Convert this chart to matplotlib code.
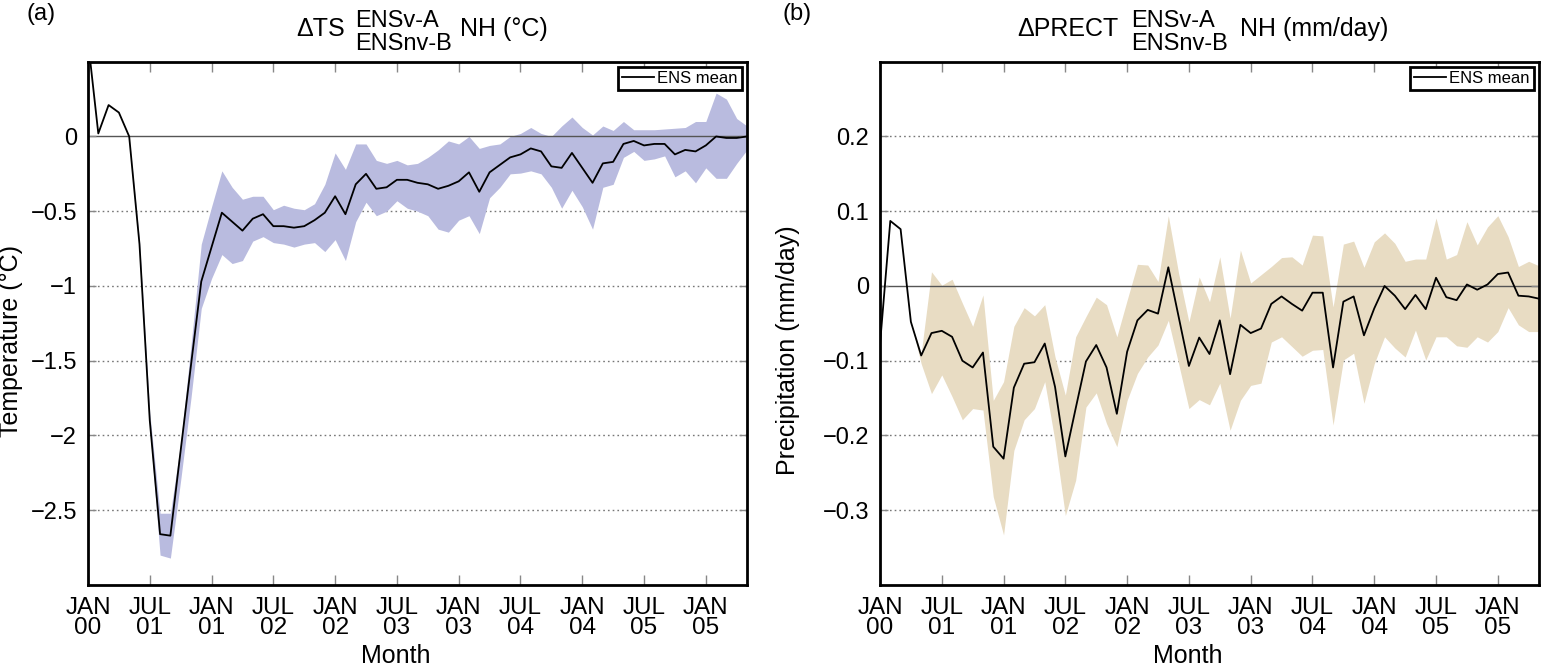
#!/usr/bin/env python3
"""
plot.py

Two-panel NH ensemble-mean anomaly plot (ENSv-A minus ENSnv-B):
  (a) surface temperature, (b) precipitation, with ensemble spread shading.
"""

import numpy as np
import matplotlib
matplotlib.use('Agg')
import matplotlib.pyplot as plt

plt.rcParams['font.family'] = ['Liberation Sans', 'DejaVu Sans']

W, H = 1542, 666

# ── Data (monthly, JAN 00 = month 0) ───────────────────────────────────────────
tick_months = [0, 6, 12, 18, 24, 30, 36, 42, 48, 54, 60]
tick_labels = ['JAN\n00', 'JUL\n01', 'JAN\n01', 'JUL\n02', 'JAN\n02', 'JUL\n03',
               'JAN\n03', 'JUL\n04', 'JAN\n04', 'JUL\n05', 'JAN\n05']

ts_mean = [0.64, 0.02, 0.21, 0.16, 0.0, -0.72, -1.9, -2.66, -2.67, -2.10,
           -1.53, -0.97, -0.74, -0.51, -0.57, -0.63, -0.55, -0.52, -0.60, -0.60,
           -0.61, -0.60, -0.56, -0.51, -0.40, -0.52, -0.32, -0.25, -0.35, -0.34,
           -0.29, -0.29, -0.31, -0.32, -0.35, -0.33, -0.30, -0.24, -0.37, -0.24,
           -0.19, -0.14, -0.12, -0.08, -0.10, -0.20, -0.21, -0.11, -0.21, -0.31,
           -0.18, -0.17, -0.05, -0.03, -0.06, -0.05, -0.05, -0.12, -0.09, -0.10,
           -0.06, 0.0, -0.01, -0.01, 0.0]
ts_hi = [0.64, 0.02, 0.21, 0.16, 0.0, -0.70, -1.85, -2.52, -2.52, -2.05,
         -1.40, -0.72, -0.47, -0.23, -0.34, -0.42, -0.40, -0.40, -0.49, -0.46,
         -0.48, -0.49, -0.45, -0.32, -0.11, -0.22, -0.05, -0.05, -0.16, -0.18,
         -0.16, -0.19, -0.18, -0.14, -0.09, -0.03, -0.05, 0.0, -0.08, -0.06,
         -0.05, 0.0, 0.02, 0.06, 0.02, 0.0, 0.07, 0.13, 0.06, 0.01,
         0.07, 0.04, 0.10, 0.045, 0.045, 0.045, 0.05, 0.055, 0.06, 0.10,
         0.10, 0.29, 0.25, 0.12, 0.07]
ts_lo = [0.64, 0.02, 0.21, 0.16, 0.0, -0.74, -1.95, -2.80, -2.82, -2.30,
         -1.75, -1.15, -0.95, -0.79, -0.85, -0.83, -0.70, -0.67, -0.71, -0.72,
         -0.74, -0.72, -0.71, -0.77, -0.69, -0.83, -0.57, -0.44, -0.53, -0.50,
         -0.43, -0.48, -0.50, -0.53, -0.62, -0.64, -0.56, -0.53, -0.65, -0.41,
         -0.34, -0.25, -0.245, -0.23, -0.25, -0.34, -0.48, -0.36, -0.47, -0.62,
         -0.34, -0.32, -0.14, -0.10, -0.16, -0.15, -0.13, -0.27, -0.23, -0.31,
         -0.21, -0.28, -0.28, -0.18, -0.09]

pr_mean = [-0.078, 0.087, 0.076, -0.048, -0.093, -0.063, -0.060, -0.068, -0.100, -0.109,
           -0.089, -0.215, -0.231, -0.136, -0.104, -0.102, -0.077, -0.135, -0.228, -0.164,
           -0.101, -0.079, -0.109, -0.171, -0.088, -0.046, -0.032, -0.037, 0.025, -0.041,
           -0.107, -0.069, -0.091, -0.046, -0.118, -0.052, -0.063, -0.057, -0.024, -0.014,
           -0.024, -0.033, -0.009, -0.009, -0.109, -0.021, -0.014, -0.066, -0.030, 0.0,
           -0.013, -0.031, -0.012, -0.031, 0.011, -0.015, -0.019, 0.002, -0.005, 0.002,
           0.016, 0.018, -0.013, -0.014, -0.017]
pr_hi = [-0.078, 0.087, 0.076, -0.048, -0.090, 0.019, 0.001, 0.009, -0.023, -0.054,
         -0.012, -0.153, -0.128, -0.054, -0.029, -0.040, -0.025, -0.095, -0.146, -0.068,
         -0.041, -0.015, -0.025, -0.068, -0.019, 0.029, 0.028, 0.006, 0.094, 0.017,
         -0.048, 0.012, -0.021, 0.039, -0.043, 0.048, 0.004, 0.015, 0.026, 0.038,
         0.039, 0.028, 0.068, 0.067, -0.028, 0.056, 0.060, 0.025, 0.059, 0.071,
         0.057, 0.033, 0.036, 0.036, 0.091, 0.036, 0.042, 0.086, 0.055, 0.079,
         0.094, 0.066, 0.026, 0.033, 0.027]
pr_lo = [-0.078, 0.087, 0.076, -0.048, -0.104, -0.144, -0.119, -0.148, -0.179, -0.164,
         -0.166, -0.282, -0.333, -0.220, -0.179, -0.164, -0.128, -0.208, -0.307, -0.260,
         -0.162, -0.143, -0.184, -0.215, -0.153, -0.117, -0.095, -0.079, -0.046, -0.104,
         -0.164, -0.152, -0.159, -0.130, -0.193, -0.153, -0.133, -0.130, -0.075, -0.068,
         -0.081, -0.094, -0.086, -0.085, -0.186, -0.099, -0.090, -0.157, -0.104, -0.068,
         -0.083, -0.095, -0.059, -0.099, -0.068, -0.068, -0.080, -0.082, -0.068, -0.075,
         -0.061, -0.029, -0.052, -0.061, -0.061]

ts_ticks = [-2.5, -2, -1.5, -1, -0.5, 0]
ts_ticklabels = ['\u22122.5', '\u22122', '\u22121.5', '\u22121', '\u22120.5', '0']
pr_ticks = [-0.3, -0.2, -0.1, 0, 0.1, 0.2]
pr_ticklabels = ['\u22120.3', '\u22120.2', '\u22120.1', '0', '0.1', '0.2']

TS_BAND = '#b9bbdf'
PR_BAND = '#e8dcc3'


def px(x, y):
    """Pixel position (from top-left) to figure fraction."""
    return x / W, 1 - y / H


def draw_panel(ax, mean, lo, hi, band_color, ylim, yticks, yticklabels, ylabel, ylabel_x, ylabel_y):
    months = np.arange(len(mean))
    ax.fill_between(months, lo, hi, color=band_color, linewidth=0, zorder=1)
    for yt in yticks:
        if yt == 0:
            continue
        ax.axhline(yt, color='#777777', lw=1.0, ls=(0, (1.2, 2.2)), zorder=0.5)
    ax.axhline(0, color='#555555', lw=1.0, zorder=1.5)
    ax.plot(months, mean, color='black', lw=1.3, label='ENS mean', zorder=3)

    ax.set_xlim(0, 64)
    ax.set_ylim(*ylim)
    ax.set_xticks(tick_months)
    ax.set_xticklabels(tick_labels, fontsize=17.5, linespacing=0.85)
    ax.set_yticks(yticks)
    ax.set_yticklabels(yticklabels, fontsize=17)
    ax.tick_params(axis='x', direction='in', length=7, width=1, color='#888888',
                   top=True, pad=9)
    ax.tick_params(axis='y', direction='in', length=6, width=1, color='#888888',
                   right=True, pad=8)
    for sp in ax.spines.values():
        sp.set_linewidth(2.0)
        sp.set_color('black')

    ax.set_xlabel('Month', fontsize=18)
    ax.xaxis.set_label_coords(0.467, -0.113)
    ax.set_ylabel(ylabel, fontsize=18)
    ax.yaxis.set_label_coords(ylabel_x, ylabel_y)

    leg = ax.legend(loc='upper right', fontsize=12, frameon=True, fancybox=False,
                    handlelength=1.9, handletextpad=0.2, borderpad=0.25,
                    borderaxespad=0.3)
    leg.get_frame().set_edgecolor('black')
    leg.get_frame().set_linewidth(2.0)
    leg.get_frame().set_alpha(1.0)


def draw_title(fig, x0, main, unit, gap1, gap2):
    base = 36
    t = fig.text(*px(x0, base), main, fontsize=18, ha='left', va='baseline')
    fig.canvas.draw()
    r = fig.canvas.get_renderer()
    bb = t.get_window_extent(r)
    xs = bb.x1 + gap1
    t1 = fig.text(xs / W, 1 - 27 / H, 'ENSv-A', fontsize=17, ha='left', va='baseline')
    t2 = fig.text(xs / W, 1 - 50 / H, 'ENSnv-B', fontsize=17, ha='left', va='baseline')
    xe = max(t1.get_window_extent(r).x1, t2.get_window_extent(r).x1) + gap2
    fig.text(xe / W, 1 - base / H, unit, fontsize=18, ha='left', va='baseline')


fig = plt.figure(figsize=(W / 100, H / 100), dpi=100)

ax1 = fig.add_axes([88 / W, 1 - 585 / H, 659 / W, 523.3 / H])
draw_panel(ax1, ts_mean, ts_lo, ts_hi, TS_BAND, (-3.0, 0.5), ts_ticks, ts_ticklabels,
           'Temperature (\u00b0C)', -0.098, 0.466)

ax2 = fig.add_axes([880 / W, 1 - 585 / H, 659 / W, 523.3 / H])
draw_panel(ax2, pr_mean, pr_lo, pr_hi, PR_BAND, (-0.4, 0.3), pr_ticks, pr_ticklabels,
           'Precipitation (mm/day)', -0.121, 0.449)

# ── Titles & panel letters ─────────────────────────────────────────────────────
draw_title(fig, 296, '\u0394TS', 'NH (\u00b0C)', 10, 9)
draw_title(fig, 1017, '\u0394PRECT', 'NH (mm/day)', 13, 12)
fig.text(*px(26, 20), '(a)', fontsize=17, ha='left', va='baseline')
fig.text(*px(782, 20), '(b)', fontsize=17, ha='left', va='baseline')

fig.savefig('out.png', dpi=100)
